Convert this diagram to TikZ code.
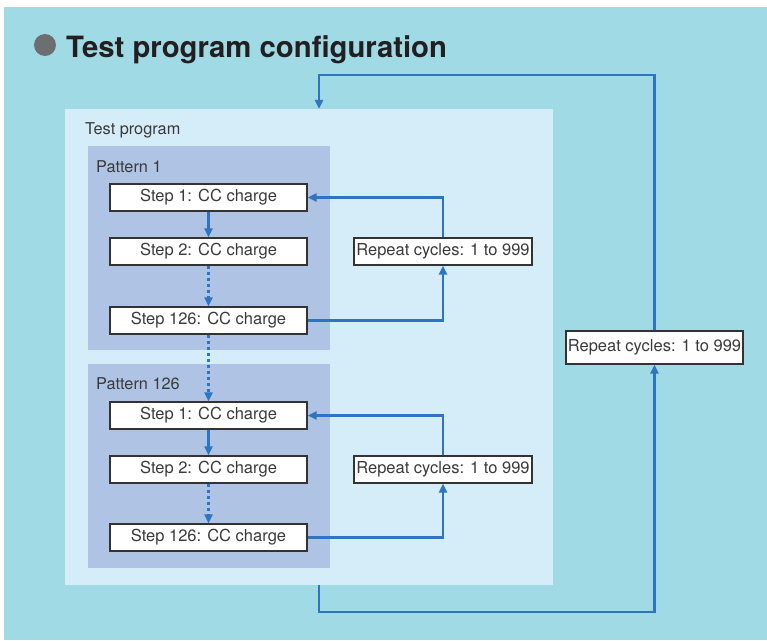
\documentclass[tikz,border=0pt]{standalone}
\usepackage{fontspec}
\setmainfont{TeX Gyre Heros}
\usetikzlibrary{arrows.meta,calc}
\definecolor{bgc}{HTML}{A0DAE5}
\definecolor{tpc}{HTML}{D5ECF9}
\definecolor{patc}{HTML}{AFC4E4}
\definecolor{linec}{HTML}{2E74C0}
\definecolor{txtc}{HTML}{3A3A3A}
\definecolor{titc}{HTML}{231F20}
\definecolor{bulc}{HTML}{6D6E71}
\tikzset{
  stepbox/.style={draw=black!80, line width=1.4pt, fill=white, minimum width=197pt, minimum height=27pt, inner sep=0pt, font=\fontsize{16.5}{18}\selectfont, text=txtc},
  repbox/.style={draw=black!80, line width=1.4pt, fill=white, minimum width=178pt, minimum height=27pt, inner sep=0pt, font=\fontsize{16.5}{18}\selectfont, text=txtc},
  area/.style={inner sep=0pt, draw=none},
  lbl/.style={anchor=base west, inner sep=0pt, font=\fontsize{16.3}{18}\selectfont, text=txtc},
  conn/.style={draw=linec, line width=2.7pt, -{Triangle[length=9pt,width=8pt]}},
  dotconn/.style={conn, dash pattern=on 3pt off 3pt},
}
\begin{document}
\begin{tikzpicture}[x=1pt,y=-1pt]
\useasboundingbox (0,0) rectangle (767,640);
\fill[bgc] (4,7) rectangle (767,640);
\fill[bulc] (45,45) circle (11);
\node[anchor=base west, inner sep=0pt, font=\fontsize{29.3}{32}\selectfont\bfseries, text=titc] (title) at (66,57) {Test program configuration};
% test program area
\node[area, fill=tpc, minimum width=488pt, minimum height=476pt] (tp) at (309,347) {};
\node[lbl] (tplbl) at (85,134) {Test program};
\node[area, fill=patc, minimum width=242pt, minimum height=204pt] (p1) at (209,248) {};
\node[area, fill=patc, minimum width=242pt, minimum height=204pt] (p2) at (209,466) {};
\node[lbl] (p1lbl) at (96,172) {Pattern 1};
\node[lbl] (p2lbl) at (96,389) {Pattern 126};
% steps
\node[stepbox] (s11) at (208.5,197.5) {Step 1: CC charge};
\node[stepbox] (s12) at (208.5,251.5) {Step 2: CC charge};
\node[stepbox] (s13) at (208.5,320.5) {Step 126: CC charge};
\node[stepbox] (s21) at (208.5,415.5) {Step 1: CC charge};
\node[stepbox] (s22) at (208.5,469.5) {Step 2: CC charge};
\node[stepbox] (s23) at (208.5,537.5) {Step 126: CC charge};
\node[repbox] (r1) at (443,251.5) {Repeat cycles: 1 to 999};
\node[repbox] (r2) at (443,469.5) {Repeat cycles: 1 to 999};
\node[repbox, minimum width=177pt, minimum height=33pt] (r0) at (654.5,347.5) {Repeat cycles: 1 to 999};
% connectors
\draw[conn] (s11) -- (s12);
\draw[dotconn] (s12) -- (s13);
\draw[dotconn] (s13) -- (s21);
\draw[conn] (s21) -- (s22);
\draw[dotconn] (s22) -- (s23);
\draw[conn] (s13.east) -| (r1.south);
\draw[conn] (r1.north) |- (s11.east);
\draw[conn] (s23.east) -| (r2.south);
\draw[conn] (r2.north) |- (s21.east);
\coordinate (lb) at (319,612);
\coordinate (lt) at (319,75);
\draw[conn] (tp.south -| lb) -- (lb) -| (r0.south);
\draw[conn] (r0.north) |- (lt) -- (tp.north -| lt);
\end{tikzpicture}
\end{document}
